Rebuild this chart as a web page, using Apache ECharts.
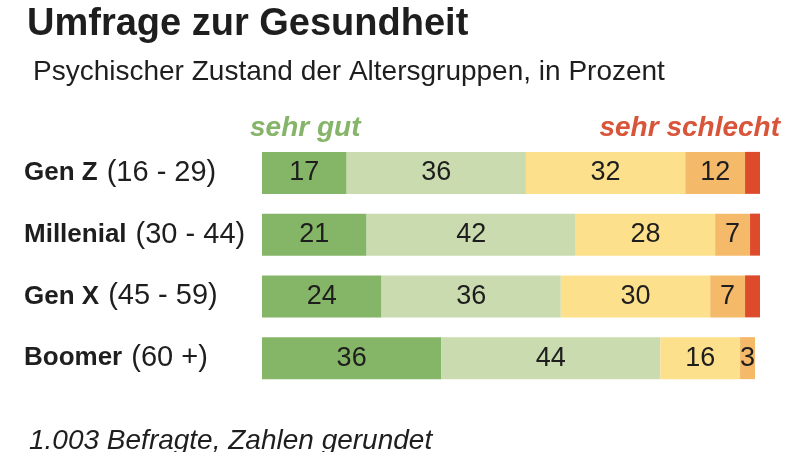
<!DOCTYPE html>
<html>
<head>
<meta charset="utf-8">
<script src="https://cdn.jsdelivr.net/npm/echarts@6/dist/echarts.min.js"></script>
<style>html,body{margin:0;padding:0;background:#fff;}#c{width:800px;height:452px;}</style>
</head>
<body>
<div id="c"></div>
<script>
var groups = ['Gen Z', 'Millenial', 'Gen X', 'Boomer'];
var ranges = ['(16 - 29)', '(30 - 44)', '(45 - 59)', '(60 +)'];
var sehrGut = [17, 21, 24, 36];
var gut = [36, 42, 36, 44];
var mittel = [32, 28, 30, 16];
var schlecht = [12, 7, 7, 3];
var sehrSchlecht = [3, 2, 3, 0];

var seriesNames = ['sehr gut', 'gut', 'mittel', 'schlecht', 'sehr schlecht'];
var seriesData = [sehrGut, gut, mittel, schlecht, sehrSchlecht];
var colors = ['#85b566', '#cadcaf', '#fde08c', '#f5b96a', '#de4a2c'];

var FONT = 'Liberation Sans, Arial, sans-serif';
var chart = echarts.init(document.getElementById('c'));

var series = seriesNames.map(function (n, i) {
  return {
    name: n,
    type: 'bar',
    stack: 'all',
    barWidth: 42,
    data: seriesData[i],
    itemStyle: { color: colors[i] },
    label: {
      show: i < 4,
      position: 'inside',
      fontFamily: FONT,
      fontSize: 27,
      color: '#1e1e1e',
      formatter: function (p) { return p.value; }
    },
    silent: true
  };
});

chart.setOption({
  animation: false,
  backgroundColor: '#fff',
  title: [
    { text: 'Umfrage zur Gesundheit', left: 22, top: 1,
      textStyle: { fontFamily: FONT, fontSize: 38, fontWeight: 'bold', color: '#1e1e1e' } },
    { text: 'Psychischer Zustand der Altersgruppen, in Prozent', left: 28, top: 53,
      textStyle: { fontFamily: FONT, fontSize: 28, fontWeight: 'normal', color: '#1e1e1e' } },
    { text: 'sehr gut', left: 245, top: 109,
      textStyle: { fontFamily: FONT, fontSize: 28, fontWeight: 'bold', fontStyle: 'italic', color: '#86b56a' } },
    { text: 'sehr schlecht', right: 15, top: 109,
      textStyle: { fontFamily: FONT, fontSize: 28, fontWeight: 'bold', fontStyle: 'italic', color: '#d9553a' } },
    { text: '1.003 Befragte, Zahlen gerundet', left: 24, top: 422,
      textStyle: { fontFamily: FONT, fontSize: 28, fontWeight: 'normal', fontStyle: 'italic', color: '#1e1e1e' } }
  ],
  grid: { left: 262, right: 40, top: 142, height: 247 },
  xAxis: { type: 'value', min: 0, max: 100, show: false },
  yAxis: {
    type: 'category',
    inverse: true,
    data: groups,
    axisLine: { show: false },
    axisTick: { show: false },
    axisLabel: {
      align: 'left',
      margin: 238,
      formatter: function (v, i) { return '{b|' + v + '}{s|}{r|' + ranges[i] + '}'; },
      rich: {
        b: { fontFamily: FONT, fontSize: 26, fontWeight: 'bold', color: '#1e1e1e' },
        s: { width: 9 },
        r: { fontFamily: FONT, fontSize: 29, color: '#1e1e1e' }
      }
    }
  },
  series: series
});
</script>
</body>
</html>
